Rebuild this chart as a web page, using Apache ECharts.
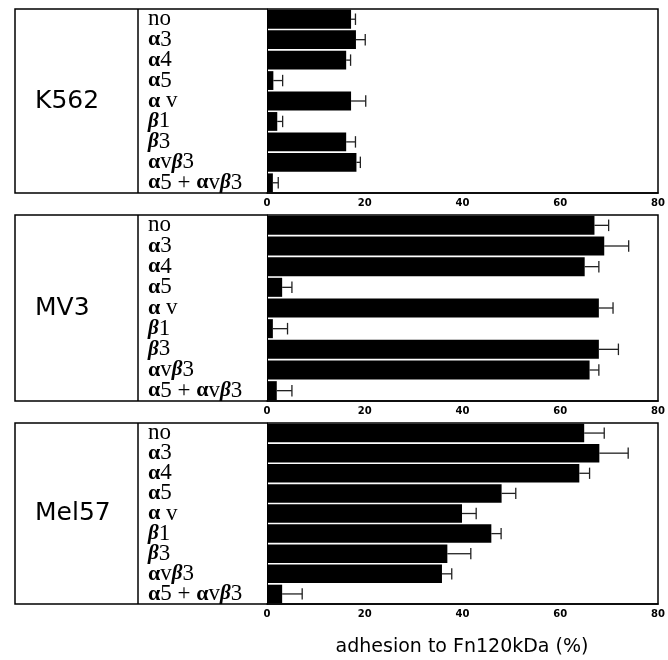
<!DOCTYPE html>
<html><head><meta charset="utf-8">
<script src="https://cdn.jsdelivr.net/npm/echarts@6/dist/echarts.min.js"></script>
<style>html,body{margin:0;padding:0;background:#fff}#c{width:668px;height:660px}</style>
</head><body><div id="c"></div>
<script>
// ---- data ----
const categories = ['no', 'α3', 'α4', 'α5', 'α v', 'β1', 'β3', 'αvβ3', 'α5 + αvβ3'];
const cellLines = ['K562', 'MV3', 'Mel57'];
const k562 = [17.2, 18.2, 16.2, 1.3, 17.2, 2.1, 16.2, 18.3, 1.2];
const k562Err = [0.9, 1.9, 0.9, 1.9, 3.0, 1.1, 1.9, 0.8, 1.1];
const mv3 = [67.0, 69.0, 65.0, 3.1, 67.9, 1.2, 67.9, 66.0, 2.0];
const mv3Err = [2.9, 5.0, 2.9, 2.0, 2.9, 3.0, 4.0, 1.9, 3.1];
const mel57 = [64.9, 68.0, 63.9, 48.0, 39.9, 45.9, 36.9, 35.8, 3.1];
const mel57Err = [4.1, 5.9, 2.1, 2.9, 2.9, 2.0, 4.8, 2.0, 4.1];
const xTicks = [0, 20, 40, 60, 80];
const axisTitle = 'adhesion to Fn120kDa (%)';

// ---- layout ----
const values = [k562, mv3, mel57];
const errs = [k562Err, mv3Err, mel57Err];
const panels = [{top: 9, h: 184}, {top: 215, h: 186}, {top: 423, h: 181}];
const boxLeft = 15, boxRight = 658, divider = 138, plotLeft = 267;

const richLabel = s => s.split('').map(ch => ch === 'α' ? '{a|α}' : ch === 'β' ? '{b|β}' : '{n|' + ch + '}').join('');
const serif = 'Liberation Serif';

const chart = echarts.init(document.getElementById('c'), null, {renderer: 'canvas'});
const grid = [], xAxis = [], yAxis = [], series = [], graphic = [];
panels.forEach((p, k) => {
  grid.push({left: plotLeft, width: boxRight - plotLeft, top: p.top, height: p.h, containLabel: false});
  xAxis.push({
    gridIndex: k, type: 'value', min: xTicks[0], max: xTicks[xTicks.length - 1], interval: 20,
    splitLine: {show: false}, axisTick: {show: false},
    axisLine: {show: true, lineStyle: {color: '#000', width: 1.5}},
    axisLabel: {color: '#000', fontFamily: 'DejaVu Sans', fontWeight: 'bold', fontSize: 10, margin: 5,
      formatter: v => xTicks.includes(v) ? String(v) : ''}
  });
  yAxis.push({
    gridIndex: k, type: 'category', inverse: true, data: categories,
    axisTick: {show: false}, axisLine: {show: true, lineStyle: {color: '#000', width: 1}},
    axisLabel: {interval: 0, align: 'left', margin: plotLeft - 148, color: '#000',
      formatter: v => richLabel(v),
      rich: {
        n: {fontFamily: serif, fontSize: 23, color: '#000', lineHeight: 20},
        a: {fontFamily: serif, fontSize: 22, fontWeight: 'bold', color: '#000', lineHeight: 20},
        b: {fontFamily: serif, fontSize: 21, fontWeight: 'bold', fontStyle: 'italic', color: '#000', lineHeight: 20}
      }}
  });
  series.push({
    type: 'bar', xAxisIndex: k, yAxisIndex: k, data: values[k], barCategoryGap: '8%',
    itemStyle: {color: '#000'}, silent: true, animation: false
  });
  series.push({
    type: 'custom', xAxisIndex: k, yAxisIndex: k, animation: false, silent: true,
    data: values[k].map((v, i) => [v, i, v + errs[k][i]]),
    encode: {x: [0, 2], y: 1},
    renderItem: (params, api) => {
      const p0 = api.coord([api.value(0), api.value(1)]);
      const p1 = api.coord([api.value(2), api.value(1)]);
      const hh = api.size([0, 1])[1] * 0.28;
      const st = {stroke: '#222', lineWidth: 1.3};
      return {type: 'group', children: [
        {type: 'line', shape: {x1: p0[0], y1: p0[1], x2: p1[0], y2: p1[1]}, style: st},
        {type: 'line', shape: {x1: p1[0], y1: p1[1] - hh, x2: p1[0], y2: p1[1] + hh}, style: st}
      ]};
    }
  });
  graphic.push({type: 'rect', z: 100, shape: {x: boxLeft, y: p.top, width: boxRight - boxLeft, height: p.h},
    style: {fill: 'none', stroke: '#000', lineWidth: 1.5}});
  graphic.push({type: 'line', z: 100, shape: {x1: divider, y1: p.top, x2: divider, y2: p.top + p.h},
    style: {stroke: '#000', lineWidth: 1.5}});
  graphic.push({type: 'text', z: 100, style: {text: cellLines[k], x: 35, y: p.top + p.h / 2,
    verticalAlign: 'middle', align: 'left', fill: '#000', font: '25px "DejaVu Sans"'}});
});
graphic.push({type: 'text', z: 100, style: {text: axisTitle, x: 462, y: 647, align: 'center',
  verticalAlign: 'middle', fill: '#000', font: '19px "DejaVu Sans"'}});

chart.setOption({animation: false, backgroundColor: '#fff', grid, xAxis, yAxis, series, graphic});
</script></body></html>
